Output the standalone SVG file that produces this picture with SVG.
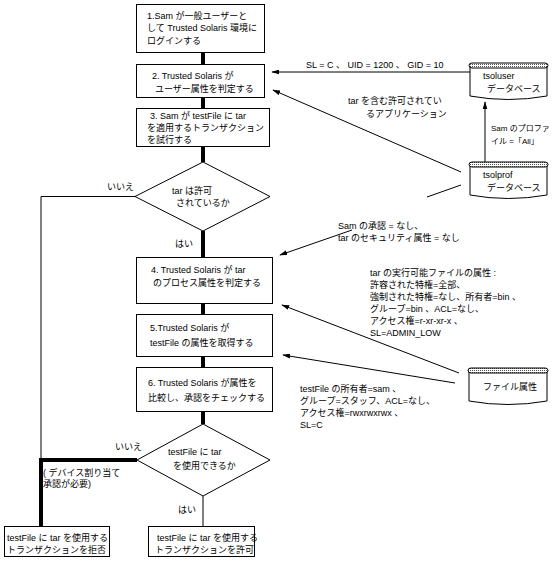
<svg xmlns="http://www.w3.org/2000/svg" width="556" height="562" viewBox="0 0 556 562">
<defs>
<style>
text{font-family:"Liberation Sans","Noto Sans CJK JP",sans-serif;font-size:9px;fill:#000}
.box{fill:#fff;stroke:#000;stroke-width:1}
.thick{stroke:#000;stroke-width:4;fill:none}
.thin{stroke:#000;stroke-width:1;fill:none}
.arr{stroke:#000;stroke-width:1;fill:none;marker-end:url(#ah)}
.cyl{fill:#fff;stroke:#000;stroke-width:1}
.cyltop{fill:url(#dots);stroke:#000;stroke-width:1}
.sm{font-size:8px}
</style>
<marker id="ah" viewBox="0 0 10 6" refX="9" refY="3" markerWidth="8" markerHeight="5" orient="auto" markerUnits="userSpaceOnUse">
<path d="M0,0 L10,3 L0,6 z" fill="#000"/>
</marker>
<pattern id="dots" width="2" height="2" patternUnits="userSpaceOnUse">
<rect width="2" height="2" fill="#fff"/><rect width="1" height="1" fill="#555"/>
</pattern>
</defs>
<rect width="556" height="562" fill="#fff"/>
<g id="connectors">
<line class="thick" x1="203" y1="53" x2="203" y2="64"/>
<line class="thick" x1="203" y1="98" x2="203" y2="108"/>
<line class="thick" x1="203" y1="147" x2="203" y2="162"/>
<line class="thick" x1="203" y1="231" x2="203" y2="257"/>
<line class="thick" x1="203" y1="304" x2="203" y2="314"/>
<line class="thick" x1="203" y1="357" x2="203" y2="367"/>
<line class="thick" x1="203" y1="412" x2="203" y2="424"/>
<line class="thin" x1="203" y1="496" x2="203" y2="526"/>
<polyline class="thin" points="135,196.5 41,196.5 41,460"/>
<polyline class="thick" points="137,460 41,460 41,526"/>
<line class="arr" x1="470" y1="72" x2="272" y2="72"/>
<line class="arr" x1="461" y1="172" x2="273" y2="90"/>
<line class="arr" x1="485" y1="162" x2="485" y2="102"/>
<line class="thin" x1="461" y1="185" x2="427" y2="197"/>
<line class="arr" x1="352" y1="230" x2="280" y2="255"/>
<line class="arr" x1="459" y1="373" x2="282" y2="305"/>
<line class="arr" x1="455" y1="383" x2="283" y2="355"/>
</g>
<g id="n1"><rect class="box" x="136.5" y="4.5" width="128" height="48"/>
<text x="147" y="19">1.Sam が一般ユーザーと</text><text x="147" y="31">して Trusted Solaris 環境に</text><text x="147" y="44">ログインする</text></g>
<g id="n2"><rect class="box" x="136.5" y="64.5" width="128" height="33"/>
<text x="152" y="79">2. Trusted Solaris が</text><text x="155" y="92">ユーザー属性を判定する</text></g>
<g id="n3"><rect class="box" x="136.5" y="108.5" width="133" height="38"/>
<text x="150" y="119">3. Sam が testFile に tar</text><text x="147" y="131">を適用するトランザクション</text><text x="147" y="143">を試行する</text></g>
<g id="d1"><polygon class="box" points="203,162 270,196.5 203,231 135,196.5"/>
<text x="172" y="194">tar は許可</text><text x="176" y="206">されているか</text></g>
<g id="n4"><rect class="box" x="136.5" y="257.5" width="136" height="46"/>
<text x="151" y="273">4. Trusted Solaris が tar</text><text x="153" y="286">のプロセス属性を判定する</text></g>
<g id="n5"><rect class="box" x="136.5" y="314.5" width="136" height="42"/>
<text x="150" y="331">5.Trusted Solaris が</text><text x="150" y="346">testFile の属性を取得する</text></g>
<g id="n6"><rect class="box" x="136.5" y="367.5" width="136" height="44"/>
<text x="148" y="386">6. Trusted Solaris が属性を</text><text x="148" y="401">比較し、承認をチェックする</text></g>
<g id="d2"><polygon class="box" points="203,424 270,460 203,496 137,460"/>
<text x="168" y="455">testFile に tar</text><text x="173" y="469">を使用できるか</text></g>
<g id="n7"><rect class="box" x="4.5" y="526.5" width="105" height="30"/>
<text x="7" y="541">testFile に tar を使用する</text><text x="7" y="553">トランザクションを拒否</text></g>
<g id="n8"><rect class="box" x="148.5" y="526.5" width="106" height="30"/>
<text x="157" y="541">testFile に tar を使用する</text><text x="155" y="553">トランザクションを許可</text></g>
<g id="db1"><path class="cyl" d="M470,66 V96 Q508,103 547,96 V66"/><path class="cyltop" d="M472,63 H545 Q548,63 548,65.5 Q548,68 545,68 H472 Q469,68 469,65.5 Q469,63 472,63 Z"/>
<text x="483" y="79">tsoluser</text><text x="487" y="92">データベース</text></g>
<g id="db2"><path class="cyl" d="M470,165 V195 Q508,202 547,195 V165"/><path class="cyltop" d="M472,162 H545 Q548,162 548,164.5 Q548,167 545,167 H472 Q469,167 469,164.5 Q469,162 472,162 Z"/>
<text x="483" y="178">tsolprof</text><text x="487" y="191">データベース</text></g>
<g id="db3"><path class="cyl" d="M469,371 V401 Q508,408 547,401 V371"/><path class="cyltop" d="M471,368 H545 Q548,368 548,370.5 Q548,373 545,373 H471 Q468,373 468,370.5 Q468,368 471,368 Z"/>
<text x="483" y="390">ファイル属性</text></g>
<g id="labels">
<text x="107" y="190">いいえ</text>
<text x="175" y="247">はい</text>
<text x="115" y="450">いいえ</text>
<text x="178" y="513">はい</text>
<text x="43" y="476">( デバイス割り当て</text>
<text x="43" y="487">承認が必要)</text>
<text x="306" y="68">SL = C 、 UID = 1200 、 GID = 10</text>
<text x="348" y="104">tar を含む許可されてい</text>
<text x="366" y="117">るアプリケーション</text>
<text class="sm" x="491" y="131">Sam のプロファ</text>
<text class="sm" x="491" y="144">イル =「All」</text>
<text x="338" y="229">Sam の承認 = なし、</text>
<text x="338" y="241">tar のセキュリティ属性 = なし</text>
<text x="370" y="276">tar の実行可能ファイルの属性 :</text>
<text x="370" y="288">許容された特権=全部、</text>
<text x="370" y="300">強制された特権=なし、所有者=bin 、</text>
<text x="370" y="312">グループ=bin 、ACL=なし、</text>
<text x="370" y="324">アクセス権=r-xr-xr-x 、</text>
<text x="370" y="336">SL=ADMIN_LOW</text>
<text x="300" y="392">testFile の所有者=sam 、</text>
<text x="300" y="404">グループ=スタッフ、ACL=なし、</text>
<text x="300" y="416">アクセス権=rwxrwxrwx 、</text>
<text x="300" y="428">SL=C</text>
</g>
</svg>
